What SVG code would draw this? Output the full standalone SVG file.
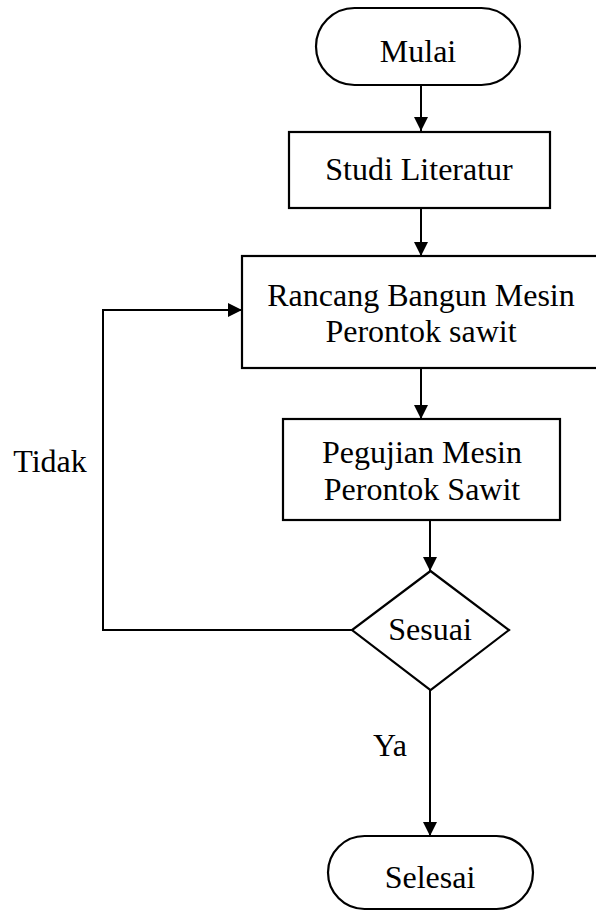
<svg xmlns="http://www.w3.org/2000/svg" width="596" height="911" viewBox="0 0 596 911">
<style>
.s{fill:#fff;stroke:#000;stroke-width:2.2}
.t{font-family:"Liberation Serif","Times New Roman",serif;font-size:32px;fill:#000;text-anchor:middle}
.c{fill:none;stroke:#000;stroke-width:2;marker-end:url(#ah)}
</style>
<defs>
<marker id="ah" markerUnits="userSpaceOnUse" viewBox="0 0 14 14" refX="14" refY="7" markerWidth="14" markerHeight="14" orient="auto">
<path d="M0,0 L14,7 L0,14 z" fill="#000"/>
</marker>
</defs>
<rect width="596" height="911" fill="#fff"/>
<g id="connectors">
<line class="c" x1="421" y1="85" x2="421" y2="131"/>
<line class="c" x1="421" y1="208" x2="421" y2="256"/>
<line class="c" x1="421" y1="368" x2="421" y2="419"/>
<line class="c" x1="430" y1="520" x2="430" y2="571"/>
<line class="c" x1="430" y1="690" x2="430" y2="836"/>
<polyline class="c" points="352,630 103,630 103,310 242,310"/>
<text class="t" x="50" y="472">Tidak</text>
<text class="t" x="390" y="756">Ya</text>
</g>
<g id="mulai">
<rect class="s" x="316" y="8" width="204" height="77" rx="38.5"/>
<text class="t" x="418" y="62">Mulai</text>
</g>
<g id="studi">
<rect class="s" x="289" y="132" width="261" height="76"/>
<text class="t" x="419" y="180">Studi Literatur</text>
</g>
<g id="rancang">
<rect class="s" x="242" y="256" width="360" height="112"/>
<text class="t" x="421" y="306">Rancang Bangun Mesin</text>
<text class="t" x="421" y="342">Perontok sawit</text>
</g>
<g id="pegujian">
<rect class="s" x="283" y="419" width="277" height="101"/>
<text class="t" x="422" y="463">Pegujian Mesin</text>
<text class="t" x="422" y="500">Perontok Sawit</text>
</g>
<g id="sesuai">
<polygon class="s" points="430.5,571 509,630 430.5,690 352,630"/>
<text class="t" x="430" y="640">Sesuai</text>
</g>
<g id="selesai">
<rect class="s" x="328" y="836" width="205" height="73" rx="36.5"/>
<text class="t" x="430" y="888">Selesai</text>
</g>
</svg>
